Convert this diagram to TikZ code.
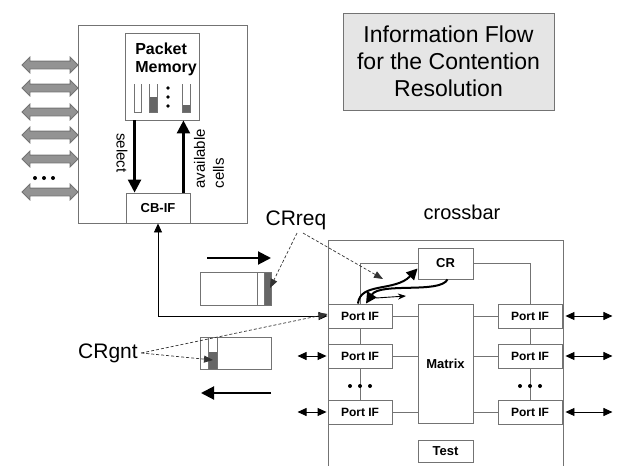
\documentclass[tikz,border=0pt]{standalone}
\usepackage{fontspec}
\setmainfont{Liberation Sans}
\usetikzlibrary{arrows.meta,shapes.arrows}

\definecolor{linegray}{gray}{0.45}
\definecolor{cellgray}{gray}{0.4}
\definecolor{titlegray}{gray}{0.9}

\begin{document}
\begin{tikzpicture}[x=1pt,y=-1pt,
		block/.style={rectangle, draw=linegray, line width=0.9pt, inner sep=0pt, font=\bfseries\fontsize{13}{13}\selectfont},
		port/.style={block, fill=white, minimum width=64pt, minimum height=24pt, font=\bfseries\fontsize{12}{12}\selectfont},
		wire/.style={draw=linegray, line width=0.9pt},
		bigarrow/.style={-{Triangle[width=13pt,length=13pt]}, line width=2.5pt, black},
		curvearrow/.style={-{Triangle[width=11pt,length=11pt]}, line width=2pt, black},
		biarrow/.style={{Triangle[width=8pt,length=9pt]}-{Triangle[width=8pt,length=9pt]}, line width=0.9pt, black},
		hint/.style={-{Triangle[width=7pt,length=9pt]}, densely dashed, line width=0.7pt, black!80},
		fatarrow/.style={double arrow, fill=gray!85, draw=black!55, line width=0.8pt, inner xsep=0pt, inner ysep=3.5pt, minimum height=56pt, minimum width=0pt, double arrow head extend=4pt}
		]
		\useasboundingbox (0,0) rectangle (619,466);
		
		\node[block, minimum width=169pt, minimum height=198pt] (linecard) at (162.5,124) {};
		\node[block, minimum width=74pt, minimum height=87pt] (pm) at (162,76.5) {};
		\node[align=left, font=\bfseries\fontsize{16}{18}\selectfont, inner sep=0pt] (pmlabel) at (166,59) {Packet\\Memory};
		\draw[wire] (134,84) |- (141,112) -- (141,84);
		\fill[cellgray] (149,97) rectangle (157,112);
		\draw[wire] (149,84) |- (157,112) -- (157,84);
		\fill[cellgray] (182,105) rectangle (190,112);
		\draw[wire] (182,84) |- (190,112) -- (190,84);
		\foreach \y in {88,97,106}
			\fill (168,\y) circle (1.8pt);
		\node[block, fill=white, minimum width=64pt, minimum height=30pt] (cbif) at (158,208) {CB-IF};
		
		\draw[bigarrow] ([xshift=10pt]pm.south west) -- ([xshift=9pt]cbif.north west);
		\draw[bigarrow] ([xshift=-7pt]cbif.north east) -- ([xshift=-16pt]pm.south east);
		\node[rotate=-90, font=\fontsize{15}{15}\selectfont] (sel) at (122,153) {select};
		\node[rotate=90, align=left, anchor=west, font=\fontsize{15}{19}\selectfont] (avail) at (209,192) {available\\cells};
		
		\foreach \n/\y in {1/65,2/88,3/112,4/135,5/159,6/192}
			\node[fatarrow] (link\n) at (50,\y) {};
		\foreach \x in {35,44,53}
			\fill (\x,178) circle (2pt);
		
		\node[block, fill=titlegray, minimum width=211pt, minimum height=97pt, align=center, font=\fontsize{23}{27}\selectfont] (title) at (448.5,61.5) {Information Flow\\for the Contention\\Resolution};
		
		\node[font=\fontsize{20}{20}\selectfont] (xbarlabel) at (462,212) {crossbar};
		\draw[wire] (328,470) -- (328,240) -- (563,240) -- (563,470);
		
		\node[block, minimum width=55pt, minimum height=31pt] (cr) at (445.5,263.5) {CR};
		\node[block, minimum width=55pt, minimum height=119pt] (matrix) at (445.5,363.5) {Matrix};
		\node[block, minimum width=55pt, minimum height=22pt] (test) at (445.5,451) {Test};
		
		\foreach \n/\y in {1/316,2/356,3/412} {
			\node[port] (pl\n) at (360,\y) {Port IF};
			\node[port] (pr\n) at (530,\y) {Port IF};
			\draw[wire] (pl\n.east) -- (pl\n.east -| matrix.west);
			\draw[wire] (pr\n.west) -- (pr\n.west -| matrix.east);
			\coordinate (ro\n) at ([xshift=50pt]pr\n.east);
			\draw[biarrow] ([xshift=3pt]pr\n.east) -- (ro\n);
		}
		\draw[wire] (pl1) -- (pl2);
		\draw[wire] (pl2) -- (pl3);
		\draw[wire] (pr1) -- (pr2);
		\draw[wire] (pr2) -- (pr3);
		\foreach \c in {360,530}
			\foreach \d in {-10,0,10}
				\fill (\c+\d,386) circle (2pt);
		\draw[wire] (cr.west) -| (pl1.north);
		\draw[wire] (cr.east) -| (pr1.north);
		
		\foreach \n in {2,3} {
			\coordinate (li\n) at ([xshift=-30pt]pl\n.west);
			\draw[biarrow] (li\n) -- ([xshift=-1pt]pl\n.west);
		}
		\draw[biarrow] (cbif.south) |- (pl1.west);
		
		\fill[cellgray] (264,272) rectangle (271,305);
		\node[block, minimum width=71pt, minimum height=33pt] (reqq) at (235.5,288.5) {};
		\draw[wire] (257,272) -- (257,305);
		\draw[wire] (264,272) -- (264,305);
		\fill[cellgray] (208,352) rectangle (217,369);
		\node[block, minimum width=71pt, minimum height=32pt] (gntq) at (235.5,353) {};
		\draw[wire] (208,337) -- (208,369);
		\draw[wire] (217,337) -- (217,369);
		
		\coordinate (reqfrom) at (207,258);
		\coordinate (reqto) at (271,258);
		\draw[bigarrow, line width=2pt] (reqfrom) -- (reqto);
		\coordinate (gntfrom) at (271,393);
		\coordinate (gntto) at (201,393);
		\draw[bigarrow, line width=2pt] (gntfrom) -- (gntto);
		
		\node[font=\fontsize{21}{21}\selectfont] (crreq) at (296,220) {CRreq};
		\node[font=\fontsize{21}{21}\selectfont] (crgnt) at (108,353) {CRgnt};
		
		\coordinate (reqcell) at (270,288);
		\coordinate (crin) at (383,279);
		\draw[hint] ([xshift=1pt]crreq.south) -- (reqcell);
		\draw[hint] ([xshift=7pt]crreq.south) -- (crin);
		\coordinate (gntcell) at (213,360);
		\draw[hint] (crgnt.east) -- (gntcell);
		\draw[hint] (crgnt.east) -- ([yshift=2pt]pl1.west);
		
		\draw[curvearrow] ([xshift=-2pt]pl1.north) .. controls (360,282) and (395,292) .. ([yshift=-5pt]cr.west);
		\draw[curvearrow] ([xshift=2pt]cr.south) .. controls (440,294) and (380,282) .. ([xshift=6pt]pl1.north);
		\coordinate (grfrom) at (376,298);
		\coordinate (grto) at (406,296);
		\draw[-{Stealth[length=8pt,width=6pt]}, line width=0.9pt] (grfrom) -- (grto);
		
	\end{tikzpicture}
\end{document}
